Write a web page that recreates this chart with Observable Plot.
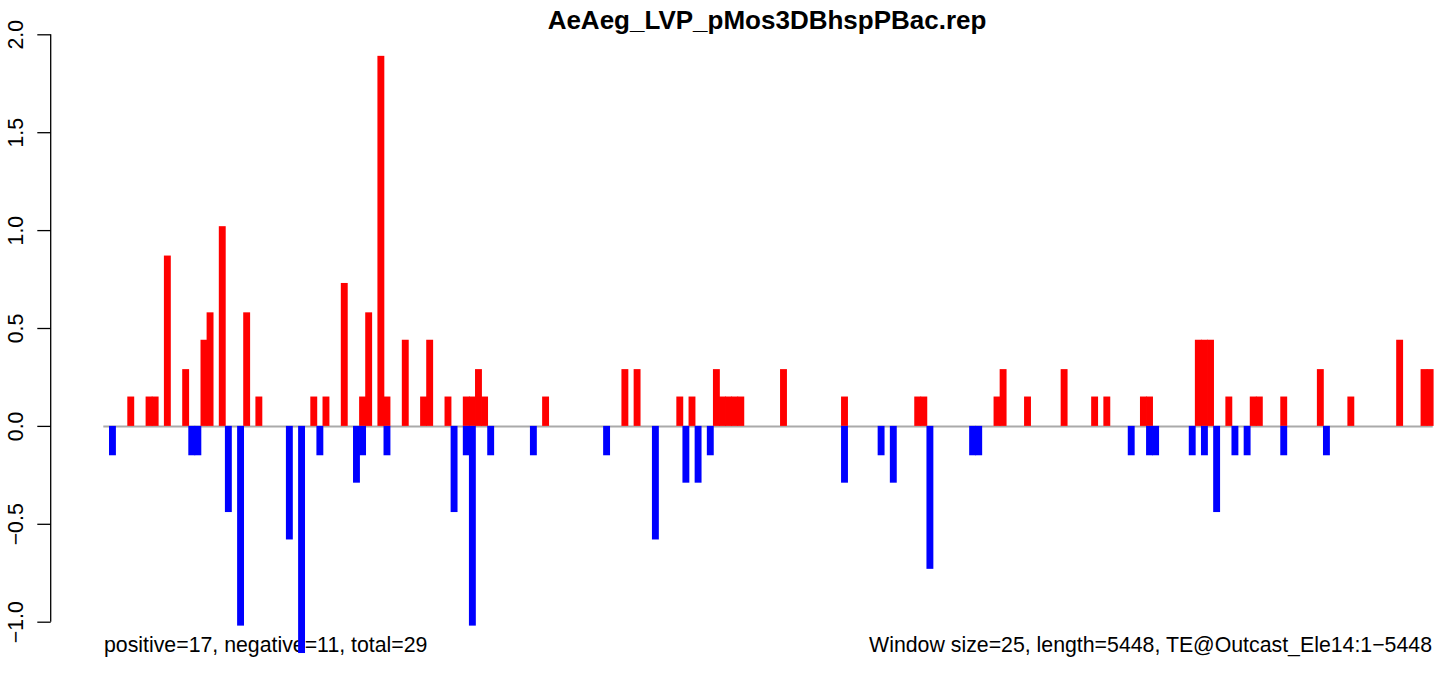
<!DOCTYPE html>
<html>
<head>
<meta charset="utf-8">
<script src="https://cdn.jsdelivr.net/npm/d3@7"></script>
<script src="https://cdn.jsdelivr.net/npm/@observablehq/plot@0.6"></script>
<style>
  html, body { margin: 0; padding: 0; background: #ffffff; }
  #wrap { position: relative; width: 1452px; height: 675px; font-family: "Liberation Sans", Arial, Helvetica, sans-serif; }
  #wrap svg { position: absolute; left: 0; top: 0; z-index: 1; }
  .t { position: absolute; white-space: nowrap; z-index: 0; color: #000; }
  #title { font-weight: bold; font-size: 26px; line-height: 26px; top: 7.3px; left: 767px; transform: translateX(-50%); }
  #capL { font-size: 21.3px; line-height: 21.3px; left: 104px; top: 635.3px; }
  #capR { font-size: 21.3px; line-height: 21.3px; right: 20px; top: 635.3px; }
</style>
</head>
<body>
<div id="wrap">
  <div id="title" class="t"></div>
  <div id="capL" class="t"></div>
  <div id="capR" class="t"></div>
</div>
<script>
// ---- data ----
const titleText = "AeAeg_LVP_pMos3DBhspPBac.rep";
const windowSize = 25;
const seqLength = 5448;
const teName = "TE@Outcast_Ele14:1\u22125448";
const counts = {positive: 17, negative: 11, total: 29};

// positive (red) bars: window index and value
const posWindow = [4, 7, 8, 10, 13, 16, 17, 19, 23, 25, 34, 36, 39, 42, 43, 45, 46, 49, 52, 53, 56, 59, 60, 61, 62, 72, 85, 87, 94, 96, 100, 101, 102, 103, 104, 111, 121, 133, 134, 146, 147, 151, 157, 162, 164, 170, 171, 179, 180, 181, 184, 188, 189, 193, 199, 204, 212, 216, 217];
const posValue  = [0.15, 0.15, 0.15, 0.87, 0.29, 0.44, 0.58, 1.02, 0.58, 0.15, 0.15, 0.15, 0.73, 0.15, 0.58, 1.89, 0.15, 0.44, 0.15, 0.44, 0.15, 0.15, 0.15, 0.29, 0.15, 0.15, 0.29, 0.29, 0.15, 0.15, 0.29, 0.15, 0.15, 0.15, 0.15, 0.29, 0.15, 0.15, 0.15, 0.15, 0.29, 0.15, 0.29, 0.15, 0.15, 0.15, 0.15, 0.44, 0.44, 0.44, 0.15, 0.15, 0.15, 0.15, 0.29, 0.15, 0.44, 0.29, 0.29];

// negative (blue) bars: window index and value
const negWindow = [1, 14, 15, 20, 22, 30, 32, 35, 41, 42, 46, 57, 59, 60, 63, 70, 82, 90, 95, 97, 99, 121, 127, 129, 135, 142, 143, 168, 171, 172, 178, 180, 182, 185, 187, 193, 200];
const negValue  = [-0.15, -0.15, -0.15, -0.44, -1.02, -0.58, -1.16, -0.15, -0.29, -0.15, -0.15, -0.44, -0.15, -1.02, -0.15, -0.15, -0.15, -0.58, -0.29, -0.29, -0.15, -0.29, -0.15, -0.29, -0.73, -0.15, -0.15, -0.15, -0.15, -0.15, -0.15, -0.15, -0.44, -0.15, -0.15, -0.15, -0.15];

const yTicks = [-1, -0.5, 0, 0.5, 1, 1.5, 2];

// ---- build ----
const pos = posWindow.map((w, k) => ({w, v: posValue[k]}));
const neg = negWindow.map((w, k) => ({w, v: negValue[k]}));

document.getElementById("title").textContent = titleText;
document.getElementById("capL").textContent = `positive=${counts.positive}, negative=${counts.negative}, total=${counts.total}`;
document.getElementById("capR").textContent = `Window size=${windowSize}, length=${seqLength}, ${teName}`;

const barOpts = {
  x1: d => d.w * windowSize,
  x2: d => (d.w + 1) * windowSize,
  y1: 0,
  y2: d => d.v,
  insetLeft: -0.4,
  insetRight: -0.4
};

const axisLine = (index, scales, values, dims) => {
  const line = d3.create("svg:line")
    .attr("x1", dims.marginLeft).attr("x2", dims.marginLeft)
    .attr("y1", scales.y(yTicks[0])).attr("y2", scales.y(yTicks[yTicks.length - 1]))
    .attr("stroke", "#000").attr("stroke-width", 1.3);
  return line.node();
};

const chart = Plot.plot({
  width: 1452,
  height: 675,
  marginLeft: 50.7,
  marginRight: 19,
  marginTop: 34.3,
  marginBottom: 53.3,
  style: {background: "transparent", fontFamily: "'Liberation Sans', Arial, Helvetica, sans-serif", fontSize: "21px", color: "#000", overflow: "visible"},
  x: {domain: [0, seqLength], range: [103.3, 1432.7], axis: null},
  y: {domain: [-1, 2], range: [621.7, 34.3], axis: null},
  marks: [
    Plot.ruleY([0], {x1: 0, x2: seqLength, stroke: "#aaaaaa", strokeWidth: 2}),
    Plot.rect(pos, {...barOpts, fill: "#ff0000"}),
    Plot.rect(neg, {...barOpts, fill: "#0000ff"}),
    Plot.axisY(yTicks, {
      anchor: "left",
      tickSize: 13.4,
      tickPadding: 14.8,
      tickRotate: -90,
      tickFormat: d3.format(".1f"),
      fontSize: 21.3,
      stroke: "#000",
      strokeWidth: 1.3,
      label: null
    }),
    axisLine
  ]
});
document.getElementById("wrap").appendChild(chart);
</script>
</body>
</html>
